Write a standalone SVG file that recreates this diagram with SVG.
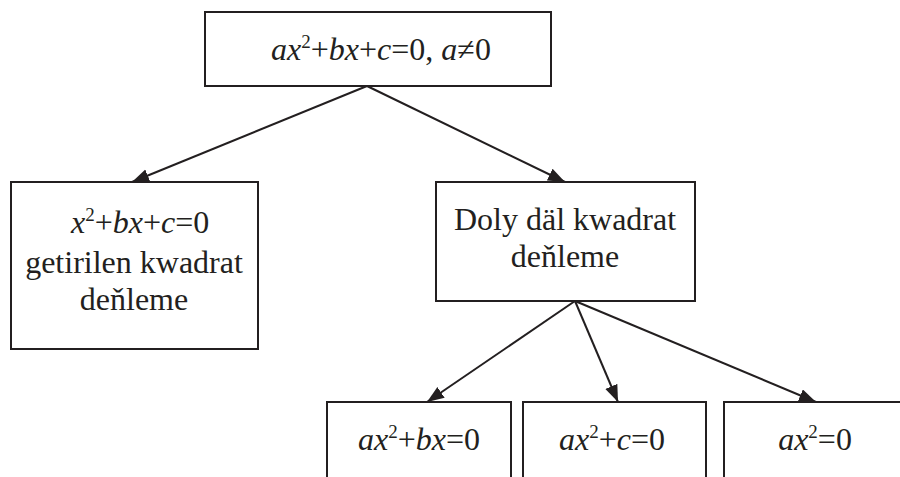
<svg xmlns="http://www.w3.org/2000/svg" width="900" height="477" viewBox="0 0 900 477">
<defs>
<style>
.box{fill:#fff;stroke:#231f20;stroke-width:2}
.edge{stroke:#231f20;stroke-width:2;fill:none}
text{font-family:"Liberation Serif","Times New Roman",serif;font-size:32px;fill:#231f20}
.i{font-style:italic}
.s{font-size:19px}
</style>
<marker id="ah" markerUnits="userSpaceOnUse" markerWidth="18" markerHeight="14" refX="17" refY="6.5" orient="auto">
<path d="M0,0 L17,6.5 L0,13 z" fill="#231f20"/>
</marker>
</defs>
<rect width="900" height="477" fill="#fff"/>
<g id="connectors">
<line class="edge" x1="367" y1="86" x2="132" y2="182" marker-end="url(#ah)"/>
<line class="edge" x1="367" y1="86" x2="565" y2="182" marker-end="url(#ah)"/>
<line class="edge" x1="575" y1="301" x2="427" y2="402" marker-end="url(#ah)"/>
<line class="edge" x1="575" y1="301" x2="618" y2="402" marker-end="url(#ah)"/>
<line class="edge" x1="575" y1="301" x2="816" y2="402" marker-end="url(#ah)"/>
</g>
<g id="root">
<rect class="box" x="205" y="12" width="346" height="74"/>
<text x="381" y="60" text-anchor="middle"><tspan class="i">ax</tspan><tspan class="s" dy="-12">2</tspan><tspan dy="12">+</tspan><tspan class="i">bx</tspan>+<tspan class="i">c</tspan>=0, <tspan class="i">a</tspan>≠0</text>
</g>
<g id="reduced">
<rect class="box" x="11" y="182" width="247" height="167"/>
<text x="71" y="233"><tspan class="i">x</tspan><tspan class="s" dy="-12">2</tspan><tspan dy="12">+</tspan><tspan class="i">bx</tspan>+<tspan class="i">c</tspan>=0</text>
<text x="134" y="273" text-anchor="middle">getirilen kwadrat</text>
<text x="134" y="310" text-anchor="middle">deňleme</text>
</g>
<g id="incomplete">
<rect class="box" x="436" y="182" width="259" height="119"/>
<text x="565" y="230" text-anchor="middle">Doly däl kwadrat</text>
<text x="565" y="267" text-anchor="middle">deňleme</text>
</g>
<g id="case1">
<rect class="box" x="327" y="402" width="184" height="90"/>
<text x="419" y="450" text-anchor="middle"><tspan class="i">ax</tspan><tspan class="s" dy="-12">2</tspan><tspan dy="12">+</tspan><tspan class="i">bx</tspan>=0</text>
</g>
<g id="case2">
<rect class="box" x="523" y="402" width="183" height="90"/>
<text x="612" y="450" text-anchor="middle"><tspan class="i">ax</tspan><tspan class="s" dy="-12">2</tspan><tspan dy="12">+</tspan><tspan class="i">c</tspan>=0</text>
</g>
<g id="case3">
<rect class="box" x="724" y="402" width="190" height="90"/>
<text x="815" y="450" text-anchor="middle"><tspan class="i">ax</tspan><tspan class="s" dy="-12">2</tspan><tspan dy="12">=0</tspan></text>
</g>
</svg>
